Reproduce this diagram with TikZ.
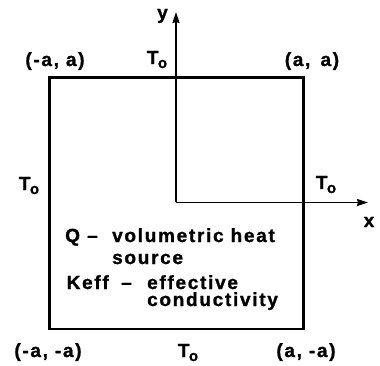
\documentclass[tikz,border=0pt]{standalone}
\usepackage{fontspec}
\setmainfont{Liberation Sans}[UprightFont={* Bold}, BoldFont={* Bold}, UprightFeatures={FakeBold=1.2}, LetterSpace=9]
\usetikzlibrary{arrows.meta}
\newcommand{\Tsub}{T\kern-0.5pt\raisebox{-4pt}{\fontsize{15}{15}\selectfont o}}
\tikzset{
  lbl/.style={inner sep=0pt, font=\fontsize{19}{21}\selectfont},
  txt/.style={lbl, anchor=base west},
  boxline/.style={line width=2.8pt},
  axis/.style={line width=1.9pt, -{Stealth[length=11pt,width=7pt,inset=1pt]}}
}
\begin{document}
\begin{tikzpicture}[x={(1pt,0)}, y={(0,-1pt)}]
\useasboundingbox[fill=white] (0,0) rectangle (380,366);
% square
\draw[boxline] (49.5,77.5) rectangle (303.5,329);
% axes
\coordinate (O) at (176,202.5);
\coordinate (ytip) at (176,12);
\coordinate (xtip) at (368,202.5);
\draw[axis] (176,77.5) -- (ytip);
\draw[line width=1.9pt] (176,77.5) -- (O);
\draw[axis] (O) -- (xtip);
% axis labels
\node[lbl, anchor=base] (ylab) at (162.5,19) {y};
\node[lbl, anchor=base] (xlab) at (369,227) {x};
% corner labels
\node[lbl, anchor=base] (tl) at (55,66) {(-a, a)};
\node[lbl, anchor=base] (tr) at (312,66) {(a,\ \,a)};
\node[lbl, anchor=base] (bl) at (48,357) {(-a, -a)};
\node[lbl, anchor=base] (br) at (306,357) {(a, -a)};
% boundary temperatures
\node[lbl, anchor=base] (ttop) at (157,64) {\Tsub};
\node[lbl, anchor=base] (tleft) at (29,190) {\Tsub};
\node[lbl, anchor=base] (tright) at (326,189) {\Tsub};
\node[lbl, anchor=base] (tbot) at (188,357) {\Tsub};
% legend text
\node[txt] (q) at (65,242) {Q};
\node[txt] (qd) at (87,242) {–};
\node[txt] (q1) at (112,242) {volumetric heat};
\node[txt] (q2) at (112,264) {source};
\node[txt] (k) at (66.5,289) {Keff};
\node[txt] (kd) at (121,289) {–};
\node[txt] (k1) at (147,289) {effective};
\node[txt] (k2) at (147,306) {conductivity};
\end{tikzpicture}
\end{document}
